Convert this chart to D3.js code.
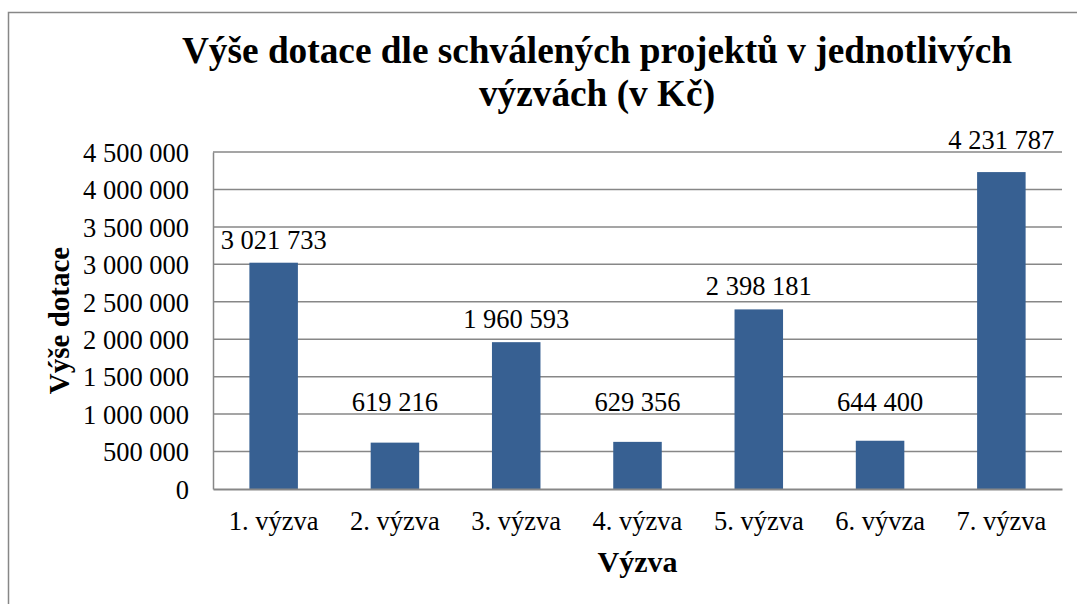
<!DOCTYPE html>
<html>
<head>
<meta charset="utf-8">
<script src="https://cdn.jsdelivr.net/npm/d3@7"></script>
<style>
  body { margin: 0; background: #fff; }
  svg { display: block; font-family: "Liberation Serif", "Times New Roman", serif; }
</style>
</head>
<body>
<div id="chart"></div>
<script>
// Data
const categories = ["1. výzva", "2. výzva", "3. výzva", "4. výzva", "5. výzva", "6. vývza", "7. výzva"];
const values = [3021733, 619216, 1960593, 629356, 2398181, 644400, 4231787];
const yTicks = [0, 500000, 1000000, 1500000, 2000000, 2500000, 3000000, 3500000, 4000000, 4500000];

const w = 1077, h = 604;
const margin = {top: 152, right: 15, bottom: 115, left: 213};
const labelGap = 14, labelCap = 19;

// space as thousands separator
const fmt = d3.formatLocale({decimal: ",", thousands: " ", grouping: [3], currency: ["", " Kč"]}).format(",d");

const svg = d3.select("#chart").append("svg")
  .attr("width", w)
  .attr("height", h);

// outer chart border (runs off page right / bottom)
svg.append("rect")
  .attr("x", 8.5).attr("y", 12.5)
  .attr("width", 1200).attr("height", 700)
  .attr("fill", "none")
  .attr("stroke", "#878787")
  .attr("stroke-width", 1.5);

const x = d3.scaleBand()
  .domain(categories)
  .range([margin.left, w - margin.right])
  .paddingInner(0.6)
  .paddingOuter(0.3);

const y = d3.scaleLinear()
  .domain([0, 4500000])
  .range([h - margin.bottom, margin.top]);

// gridlines
svg.append("g")
  .selectAll("line")
  .data(yTicks.slice(1))
  .enter()
  .append("line")
  .attr("x1", margin.left).attr("x2", w - margin.right)
  .attr("y1", d => y(d)).attr("y2", d => y(d))
  .attr("stroke", "#878787")
  .attr("stroke-width", 1.5);

// y axis
const yAxis = svg.append("g")
  .attr("transform", `translate(${margin.left},0)`)
  .call(d3.axisLeft(y).tickValues(yTicks).tickFormat(fmt).tickSize(0).tickPadding(24));
yAxis.select(".domain").attr("stroke", "#878787").attr("stroke-width", 1.5);
yAxis.selectAll("text")
  .attr("font-family", "Liberation Serif")
  .attr("font-size", 26.5)
  .attr("fill", "#000")
  .attr("dy", "0.35em");

// bars
svg.append("g")
  .selectAll("rect")
  .data(values)
  .enter()
  .append("rect")
  .attr("x", (d, i) => x(categories[i]))
  .attr("width", x.bandwidth())
  .attr("y", d => y(d))
  .attr("height", d => y(0) - y(d))
  .attr("fill", "#376092");

// x axis
const xAxis = svg.append("g")
  .attr("transform", `translate(0,${h - margin.bottom})`)
  .call(d3.axisBottom(x).tickSize(0).tickPadding(22));
xAxis.select(".domain").attr("stroke", "#878787").attr("stroke-width", 2);
xAxis.selectAll("text")
  .attr("font-family", "Liberation Serif")
  .attr("font-size", 26.5)
  .attr("fill", "#000");

// label baseline: above bar, nudged up so it does not sit on a gridline
function labelY(d) {
  let b = y(d) - labelGap;
  yTicks.forEach(t => {
    const g = y(t);
    if (g > b - labelCap - 2 && g < b + 3) b = g - 3;
  });
  return b;
}

// data labels
svg.append("g")
  .selectAll("text")
  .data(values)
  .enter()
  .append("text")
  .attr("x", (d, i) => x(categories[i]) + x.bandwidth() / 2)
  .attr("y", d => labelY(d))
  .attr("text-anchor", "middle")
  .attr("font-size", 26.5)
  .text(d => fmt(d));

// title
const title = svg.append("text")
  .attr("text-anchor", "middle")
  .attr("font-weight", "bold")
  .attr("font-size", 37.3);
title.append("tspan").attr("x", 597).attr("y", 63).text("Výše dotace dle schválených projektů v jednotlivých");
title.append("tspan").attr("x", 597).attr("y", 106).text("výzvách (v Kč)");

// axis titles
svg.append("text")
  .attr("transform", `translate(69,${(margin.top + h - margin.bottom) / 2}) rotate(-90)`)
  .attr("text-anchor", "middle")
  .attr("font-weight", "bold")
  .attr("font-size", 29)
  .text("Výše dotace");

svg.append("text")
  .attr("x", (margin.left + w - margin.right) / 2)
  .attr("y", 572)
  .attr("text-anchor", "middle")
  .attr("font-weight", "bold")
  .attr("font-size", 30)
  .text("Výzva");
</script>
</body>
</html>
